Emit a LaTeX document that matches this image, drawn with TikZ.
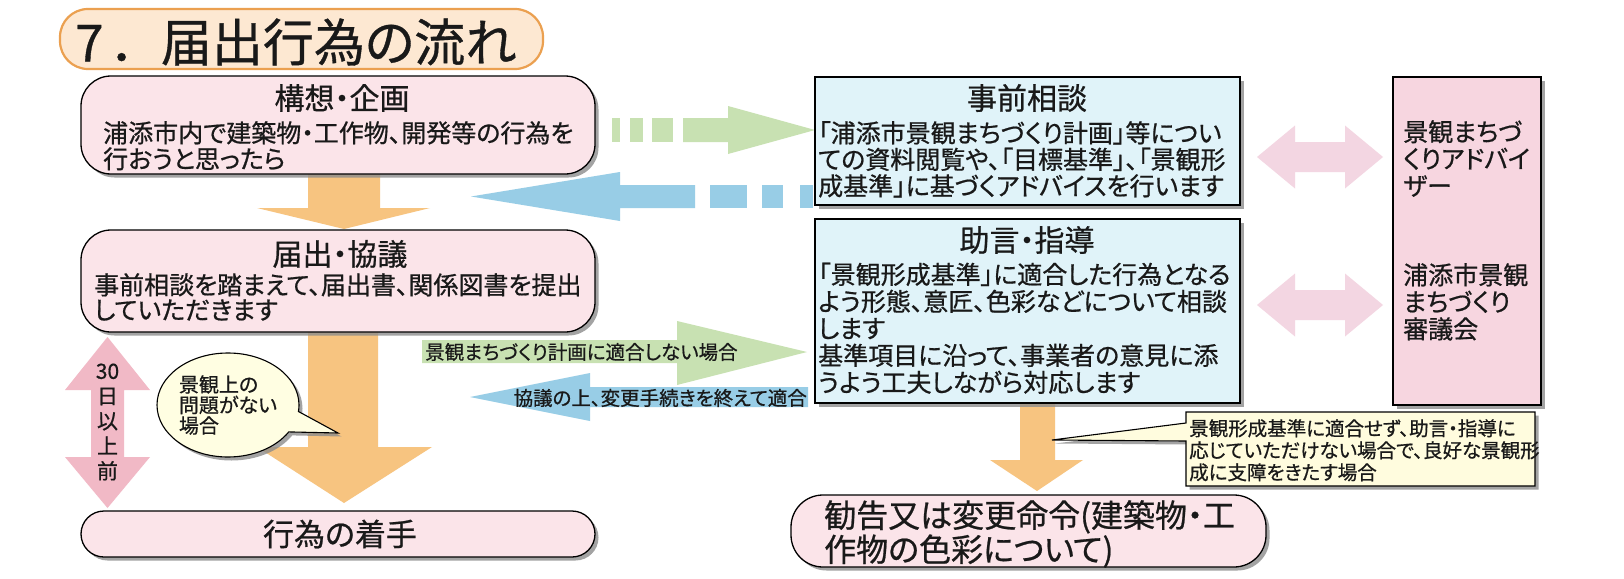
\documentclass[tikz,border=0pt]{standalone}
\usepackage{fontspec}
\setmainfont{Noto Sans CJK JP}[RawFeature=+palt,FakeBold=0.7]
\usetikzlibrary{shadows,shapes.callouts}
\definecolor{txt}{RGB}{25,25,25}
\definecolor{pinkfill}{RGB}{251,228,233}
\definecolor{bluefill}{RGB}{224,243,249}
\definecolor{pinkR}{RGB}{247,214,224}
\definecolor{orangeA}{RGB}{247,196,128}
\definecolor{greenA}{RGB}{200,225,178}
\definecolor{blueA}{RGB}{152,205,230}
\definecolor{pinkA}{RGB}{241,185,198}
\definecolor{pinkL}{RGB}{243,214,226}
\definecolor{yellowB}{RGB}{255,254,226}
\definecolor{yellowC}{RGB}{255,252,222}
\definecolor{titlefill}{RGB}{253,232,210}
\definecolor{titledraw}{RGB}{235,160,80}
\begin{document}
\begin{tikzpicture}[x=1pt,y=-1pt,
  every node/.style={inner sep=0pt,text=txt},
  shd/.style={drop shadow={shadow xshift=3.5pt,shadow yshift=-3.5pt,fill=black!45,opacity=0.8}},
  pinkbox/.style={draw=black,line width=1.3pt,fill=pinkfill,rounded corners=30pt,shd},
  bluebox/.style={draw=black,line width=1.3pt,fill=bluefill,shd},
  sidebox/.style={draw=black,line width=1.3pt,fill=pinkR,shd},
  titlebox/.style={draw=titledraw,line width=2.2pt,fill=titlefill,rounded corners=28pt},
  headtxt/.style={font=\fontsize{30}{30}\selectfont,anchor=center},
  bodytxt/.style={font=\fontsize{25}{26}\selectfont,align=left,anchor=north west},
  smalltxt/.style={font=\fontsize{19.5}{22}\selectfont}
]
\useasboundingbox (0,0) rectangle (1624,578);
\fill[white] (0,0) rectangle (1624,578);

% ---------- block arrows ----------
% top orange arrow (b1 -> b2)
\fill[orangeA] (308,174) -- (380,174) -- (380,208) -- (430,208) -- (344,229) -- (257,208) -- (308,208) -- cycle;
% big orange arrow (b2 -> b4)
\fill[orangeA] (308,332) -- (378,332) -- (378,447) -- (432,447) -- (344,503) -- (257,447) -- (308,447) -- cycle;
% pink vertical double arrow
\fill[pinkA] (107.5,337) -- (150,390) -- (124,390) -- (124,457) -- (150,457) -- (107.5,508) -- (65,457) -- (91,457) -- (91,390) -- (65,390) -- cycle;
% green dashed arrow (b1 -> b5)
\fill[greenA] (612,118) rectangle (620,142);
\fill[greenA] (630,118) rectangle (643,142);
\fill[greenA] (652,118) rectangle (673,142);
\fill[greenA] (683,118) -- (728,118) -- (728,106) -- (815,130) -- (728,154) -- (728,142) -- (683,142) -- cycle;
% blue dashed arrow (b5 -> left)
\fill[blueA] (800,185) rectangle (813,208);
\fill[blueA] (762,185) rectangle (783,208);
\fill[blueA] (710,185) rectangle (747,208);
\fill[blueA] (695,185) -- (620,185) -- (620,172) -- (471,196.5) -- (620,221) -- (620,208) -- (695,208) -- cycle;
% green labelled arrow (b2 -> b6)
\fill[greenA] (422,340) -- (677,340) -- (677,321) -- (807,352) -- (677,385) -- (677,363) -- (422,363) -- cycle;
% blue labelled arrow (b6 -> b2)
\fill[blueA] (808,387) -- (590,387) -- (590,373) -- (470,397) -- (590,421) -- (590,407) -- (808,407) -- cycle;
% pink horizontal double arrows
\fill[pinkL] (1257,157) -- (1295,125.5) -- (1295,142) -- (1345,142) -- (1345,125.5) -- (1383,157) -- (1345,188.5) -- (1345,172) -- (1295,172) -- (1295,188.5) -- cycle;
\fill[pinkL] (1257,305) -- (1295,273.5) -- (1295,290) -- (1345,290) -- (1345,273.5) -- (1383,305) -- (1345,336.5) -- (1345,320) -- (1295,320) -- (1295,336.5) -- cycle;
% orange arrow (b6 -> b8)
\fill[orangeA] (1020,403) -- (1055,403) -- (1055,460) -- (1083,460) -- (1037,491) -- (990,460) -- (1020,460) -- cycle;

% ---------- title ----------
\node[titlebox,minimum width=483pt,minimum height=60pt] (title) at (301.5,39) {};
\node[anchor=west,font=\fontsize{51}{51}\selectfont] (titletext) at (75,42) {7\hspace{10pt}．\hspace{22pt}届出行為の流れ};

% ---------- left column ----------
\node[pinkbox,minimum width=514pt,minimum height=98pt] (b1) at (338,125) {};
\node[headtxt] (b1h) at (342,98) {構想・企画};
\node[bodytxt] (b1t) at (103,121) {浦添市内で建築物・工作物、開発等の行為を\\行おうと思ったら};

\node[pinkbox,minimum width=514pt,minimum height=102pt] (b2) at (338,281) {};
\node[headtxt] (b2h) at (340,254) {届出・協議};
\node[bodytxt,font=\fontsize{25}{25}\selectfont] (b2t) at (94,273) {事前相談を踏まえて、届出書、関係図書を提出\\していただきます};

\node[pinkbox,rounded corners=23pt,minimum width=514pt,minimum height=46pt] (b4) at (338,534) {};
\node[font=\fontsize{31}{31}\selectfont] (b4t) at (340,534) {行為の着手};

\node[font=\fontsize{21}{25}\selectfont,align=center] (days) at (107.5,422) {30\\日\\以\\上\\前};

\node[ellipse callout,draw=black,line width=1.1pt,fill=yellowB,shd,
  minimum width=142pt,minimum height=104pt,
  callout absolute pointer={(338,433)},callout pointer arc=24,
  align=left,font=\fontsize{20}{20.5}\selectfont] (bub) at (228,405) {景観上の\\問題がない\\場合};

% ---------- arrow labels ----------
\node[smalltxt,anchor=west] (lg) at (425,352) {景観まちづくり計画に適合しない場合};
\node[smalltxt,anchor=east] (lb) at (807,398) {協議の上、変更手続きを終えて適合};

% ---------- middle column ----------
\node[bluebox,minimum width=425pt,minimum height=128pt] (b5) at (1027.5,141) {};
\node[headtxt] (b5h) at (1027,98) {事前相談};
\node[bodytxt,font=\fontsize{25}{26.5}\selectfont] (b5t) at (818,121) {「浦添市景観まちづくり計画」等につい\\ての資料閲覧や、「目標基準」、「景観形\\成基準」に基づくアドバイスを行います};

\node[bluebox,minimum width=425pt,minimum height=184pt] (b6) at (1027.5,311) {};
\node[headtxt] (b6h) at (1027,240) {助言・指導};
\node[bodytxt,font=\fontsize{25}{27}\selectfont] (b6t) at (818,262.5) {「景観形成基準」に適合した行為となる\\よう形態、意匠、色彩などについて相談\\します\\基準項目に沿って、事業者の意見に添\\うよう工夫しながら対応します};

\node[pinkbox,rounded corners=32pt,minimum width=475pt,minimum height=72pt] (b8) at (1028.5,531) {};
\node[bodytxt,font=\fontsize{32}{29.5}\selectfont] (b8t) at (824,500) {勧告又は変更命令(建築物・工\\作物の色彩について)};

% ---------- right column ----------
\node[sidebox,minimum width=148pt,minimum height=328pt] (b7) at (1467,241) {};
\node[bodytxt,font=\fontsize{25}{27}\selectfont] (b7a) at (1403,120) {景観まちづ\\くりアドバイ\\ザー};
\node[bodytxt,font=\fontsize{25}{27}\selectfont] (b7b) at (1403,263) {浦添市景観\\まちづくり\\審議会};

% ---------- callout ----------
\draw[line width=1.1pt,fill=yellowC,shd] (1186,412) -- (1535,412) -- (1535,486) -- (1186,486) -- (1186,441) -- (1052,440) -- (1186,423) -- cycle;
\node[smalltxt,align=left,anchor=north west] (note) at (1189,419) {景観形成基準に適合せず、助言・指導に\\応じていただけない場合で、良好な景観形\\成に支障をきたす場合};
\end{tikzpicture}
\end{document}
